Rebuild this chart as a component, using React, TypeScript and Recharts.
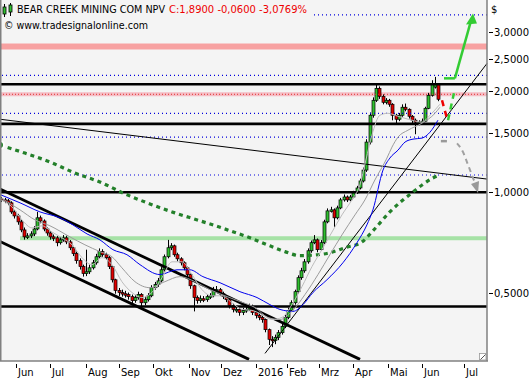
import React from "react";
import {
  ComposedChart,
  Bar,
  Line,
  Scatter,
  XAxis,
  YAxis,
  ReferenceLine,
  ReferenceArea,
} from "recharts";

const FONT = "'DejaVu Sans', Verdana, sans-serif";

// ---- axes ----
const monthTicks = [0, 21, 43, 63, 84, 106, 126, 147, 166, 186, 207, 228, 249, 275];
const monthLabels = ["Jun", "Jul", "Aug", "Sep", "Okt", "Nov", "Dez", "2016", "Feb", "Mrz", "Apr", "Mai", "Jun", "Jul"];
const xDomain: [number, number] = [-9.8, 289];
const priceTicks = [0.5, 1, 1.5, 2, 2.5, 3];
const priceLabels = ["0,5000", "1,0000", "1,5000", "2,0000", "2,5000", "3,0000"];
const yDomain: [number, number] = [0.3136, 3.749];

// ---- candles (2 trading days each) ----
const candleStartDay = -9;
const candleStepDays = 2;
const opens = [
  0.955, 0.949, 0.943, 0.930, 0.874, 0.850, 0.816, 0.772, 0.736, 0.741,
  0.751, 0.777, 0.839, 0.821, 0.777, 0.756, 0.736, 0.731, 0.707, 0.721,
  0.731, 0.711, 0.683, 0.656, 0.625, 0.600, 0.572, 0.579, 0.595, 0.616,
  0.642, 0.665, 0.651, 0.638, 0.600, 0.548, 0.509, 0.502, 0.498, 0.495,
  0.488, 0.475, 0.485, 0.495, 0.468, 0.478, 0.491, 0.519, 0.530, 0.544,
  0.587, 0.642, 0.683, 0.692, 0.651, 0.633, 0.616, 0.595, 0.568, 0.526,
  0.485, 0.475, 0.481, 0.478, 0.488, 0.491, 0.510, 0.512, 0.498, 0.488,
  0.478, 0.459, 0.444, 0.447, 0.438, 0.444, 0.447, 0.456, 0.438, 0.429,
  0.423, 0.417, 0.389, 0.364, 0.361, 0.369, 0.381, 0.398, 0.423, 0.444,
  0.468, 0.505, 0.556, 0.583, 0.620, 0.669, 0.707, 0.721, 0.674, 0.707,
  0.816, 0.880, 0.886, 0.839, 0.898, 0.949, 0.968, 0.949, 0.968, 0.996,
  1.030, 1.081, 1.165, 1.412, 1.698, 1.882, 2.043, 1.934, 1.856, 1.882,
  1.831, 1.698, 1.652, 1.698, 1.794, 1.769, 1.686, 1.641, 1.612, 1.619,
  1.630, 1.781, 1.947, 2.060, 2.099,
];
const highs = [
  0.968, 0.962, 0.955, 0.940, 0.885, 0.862, 0.828, 0.785, 0.755, 0.765,
  0.792, 0.874, 0.852, 0.830, 0.785, 0.765, 0.748, 0.740, 0.735, 0.745,
  0.742, 0.720, 0.692, 0.665, 0.635, 0.608, 0.674, 0.608, 0.628, 0.655,
  0.680, 0.676, 0.660, 0.645, 0.606, 0.552, 0.518, 0.512, 0.508, 0.502,
  0.495, 0.494, 0.505, 0.500, 0.488, 0.500, 0.528, 0.540, 0.555, 0.598,
  0.652, 0.721, 0.705, 0.698, 0.660, 0.640, 0.622, 0.600, 0.572, 0.530,
  0.492, 0.492, 0.490, 0.496, 0.500, 0.522, 0.525, 0.518, 0.505, 0.494,
  0.482, 0.465, 0.455, 0.452, 0.452, 0.456, 0.465, 0.462, 0.442, 0.434,
  0.428, 0.420, 0.392, 0.372, 0.376, 0.388, 0.405, 0.430, 0.452, 0.476,
  0.512, 0.565, 0.595, 0.632, 0.680, 0.718, 0.745, 0.728, 0.720, 0.828,
  0.895, 0.905, 0.895, 0.912, 0.962, 0.985, 0.978, 0.982, 1.010, 1.045,
  1.098, 1.185, 1.440, 1.730, 1.920, 2.114, 2.070, 1.960, 1.910, 1.900,
  1.845, 1.715, 1.725, 1.830, 1.840, 1.780, 1.700, 1.660, 1.640, 1.660,
  1.800, 1.980, 2.160, 2.210, 2.110,
];
const lows = [
  0.935, 0.928, 0.915, 0.862, 0.835, 0.800, 0.760, 0.722, 0.725, 0.730,
  0.740, 0.770, 0.808, 0.765, 0.742, 0.722, 0.715, 0.690, 0.698, 0.712,
  0.700, 0.672, 0.645, 0.612, 0.588, 0.560, 0.562, 0.570, 0.588, 0.608,
  0.635, 0.642, 0.628, 0.590, 0.538, 0.498, 0.490, 0.488, 0.485, 0.478,
  0.466, 0.468, 0.478, 0.447, 0.460, 0.472, 0.486, 0.512, 0.522, 0.538,
  0.580, 0.635, 0.672, 0.642, 0.622, 0.605, 0.585, 0.558, 0.515, 0.441,
  0.465, 0.468, 0.470, 0.471, 0.480, 0.486, 0.502, 0.490, 0.480, 0.470,
  0.450, 0.438, 0.437, 0.428, 0.430, 0.437, 0.442, 0.430, 0.420, 0.415,
  0.408, 0.382, 0.350, 0.345, 0.352, 0.362, 0.376, 0.393, 0.418, 0.440,
  0.462, 0.498, 0.548, 0.575, 0.612, 0.660, 0.700, 0.662, 0.668, 0.700,
  0.808, 0.870, 0.788, 0.830, 0.890, 0.938, 0.935, 0.940, 0.960, 0.988,
  1.020, 1.070, 1.150, 1.390, 1.670, 1.860, 1.900, 1.830, 1.830, 1.800,
  1.640, 1.600, 1.630, 1.680, 1.745, 1.660, 1.610, 1.490, 1.585, 1.590,
  1.620, 1.770, 1.930, 2.040, 1.870,
];
const closes = [
  0.949, 0.943, 0.930, 0.874, 0.850, 0.816, 0.772, 0.736, 0.741, 0.751,
  0.777, 0.839, 0.821, 0.777, 0.756, 0.736, 0.731, 0.707, 0.721, 0.731,
  0.711, 0.683, 0.656, 0.625, 0.600, 0.572, 0.579, 0.595, 0.616, 0.642,
  0.665, 0.651, 0.638, 0.600, 0.548, 0.509, 0.502, 0.498, 0.495, 0.488,
  0.475, 0.485, 0.495, 0.468, 0.478, 0.491, 0.519, 0.530, 0.544, 0.587,
  0.642, 0.683, 0.692, 0.651, 0.633, 0.616, 0.595, 0.568, 0.526, 0.485,
  0.475, 0.481, 0.478, 0.488, 0.491, 0.512, 0.512, 0.498, 0.488, 0.478,
  0.459, 0.447, 0.447, 0.438, 0.444, 0.447, 0.456, 0.438, 0.429, 0.423,
  0.417, 0.389, 0.364, 0.361, 0.369, 0.381, 0.398, 0.423, 0.444, 0.468,
  0.505, 0.556, 0.583, 0.620, 0.669, 0.707, 0.721, 0.674, 0.707, 0.816,
  0.880, 0.886, 0.839, 0.898, 0.949, 0.968, 0.949, 0.968, 0.996, 1.030,
  1.081, 1.165, 1.412, 1.698, 1.882, 2.043, 1.934, 1.856, 1.882, 1.831,
  1.698, 1.652, 1.698, 1.794, 1.769, 1.686, 1.641, 1.619, 1.619, 1.630,
  1.781, 1.947, 2.099, 2.099, 1.895,
];

// ---- moving averages ----
const grayAT = [-9.2, -2.5, 3.7, 9.8, 16, 22.1, 28.2, 34.4, 40.5, 46.6, 52.8, 58.9, 65, 71.2, 77.3, 83.4, 89.6, 95.7, 101.8, 108, 114.1, 120.2, 126.4, 132.5, 138.7, 144.8, 150.9, 157.1, 163.2, 169.3, 175.5, 181.6, 187.7, 193.9, 200, 206.1, 211, 214.7, 218.4, 223.3, 228.2, 234.4, 243, 249.1, 254, 260.1];
const grayAV = [0.949, 0.905, 0.827, 0.783, 0.794, 0.761, 0.731, 0.697, 0.638, 0.608, 0.638, 0.608, 0.541, 0.502, 0.485, 0.502, 0.556, 0.620, 0.620, 0.568, 0.512, 0.491, 0.491, 0.468, 0.447, 0.444, 0.432, 0.417, 0.423, 0.462, 0.523, 0.600, 0.674, 0.761, 0.856, 0.949, 1.051, 1.248, 1.481, 1.698, 1.721, 1.686, 1.641, 1.619, 1.698, 1.831];
const grayBT = [-9.2, 2.5, 11.7, 20.9, 33.1, 42.3, 51.5, 58.9, 65, 73, 82.2, 91.4, 100.6, 109.8, 119, 128.2, 137.4, 146.6, 154.6, 162, 169.3, 177.3, 185.3, 192.6, 200, 208, 214.1, 220.2, 227.6, 230.7, 234.4, 240.5, 249.1, 257.1, 260.1];
const grayBV = [0.962, 0.886, 0.827, 0.794, 0.736, 0.697, 0.665, 0.642, 0.595, 0.541, 0.519, 0.541, 0.560, 0.541, 0.512, 0.491, 0.472, 0.453, 0.423, 0.417, 0.441, 0.495, 0.568, 0.651, 0.746, 0.856, 0.949, 1.088, 1.265, 1.364, 1.461, 1.532, 1.608, 1.721, 1.794];
const blueT = [-9.2, 2.5, 14.7, 27, 35, 43.6, 51.5, 59.5, 68.1, 76.1, 88.3, 98.8, 106.7, 114.7, 125.2, 137.4, 147.9, 155.8, 162, 169.9, 176.1, 182.2, 190.8, 200.6, 209.2, 215.3, 219, 225.2, 229.4, 234.4, 238.7, 243.6, 249.1, 254, 258.9];
const blueV = [0.982, 0.930, 0.874, 0.839, 0.799, 0.751, 0.721, 0.674, 0.651, 0.608, 0.568, 0.587, 0.587, 0.560, 0.537, 0.505, 0.485, 0.462, 0.447, 0.441, 0.462, 0.502, 0.548, 0.616, 0.707, 0.799, 0.886, 1.165, 1.265, 1.336, 1.412, 1.441, 1.451, 1.511, 1.641];
const greenT = [-9.8, 5.5, 20.9, 36.2, 51.5, 66.9, 82.2, 97.5, 112.9, 128.2, 143.6, 155.8, 165, 174.2, 185.3, 192.6, 201.8, 212.3, 219, 229.4, 243.6, 255.8, 260.1];
const greenV = [1.383, 1.309, 1.231, 1.141, 1.073, 0.989, 0.923, 0.868, 0.822, 0.777, 0.731, 0.692, 0.665, 0.647, 0.651, 0.660, 0.683, 0.711, 0.767, 0.874, 1.002, 1.103, 1.126];

// ---- horizontal levels ----
const blueDottedLevels = [3.385, 2.233, 1.721, 1.46, 1.126];
const blackLevels = [2.1, 1.6, 1.0, 0.456];
const pinkZoneTop = [2.668, 2.78];
const pinkZoneMid = [1.934, 1.988];
const redDottedLevel = 1.961;
const greenZone = [0.719, 0.739];
const greenZoneStart = 2.5;

// ---- trend lines [day, price] ----
const channelUpper = [[-9.8, 1.023], [211.1, 0.3171]];
const channelLower = [[-9.8, 0.713], [143, 0.3171]];
const fallingLine = [[-9.8, 1.652], [289, 1.095]];
const risingLine = [[152.8, 0.3304], [289, 2.424]];

// ---- projections ----
const redProjT = [261.4, 264.4];
const redProjV = [1.882, 1.664];
const greenDashT = [265.1, 268.7];
const greenDashV = [1.641, 1.974];
const greenFlatT = [262.6, 269.3];
const greenFlatV = [2.188, 2.188];
const greenArrowT = [269.3, 279.2];
const greenArrowV = [2.188, 3.255];
const greenTipT = [280.4];
const greenTipV = [3.415];
const grayFlatT = [260.7, 264.4];
const grayFlatV = [1.421, 1.421];
const grayCurveT = [270.6, 274.3, 276.7, 278.6, 280.4, 282.2];
const grayCurveV = [1.40, 1.318, 1.231, 1.165, 1.103, 1.059];
const grayTipT = [283.5];
const grayTipV = [0.995];

const toSeries = (ts: number[], vs: number[]) => ts.map((t, i) => ({ t, v: vs[i] }));

const candles = closes.map((c, i) => ({
  t: candleStartDay + i * candleStepDays,
  o: opens[i],
  h: highs[i],
  l: lows[i],
  c,
  range: [lows[i], highs[i]],
}));

function Candle(props: any) {
  const { x, y, width, height, payload } = props;
  if (!payload || !isFinite(y) || !isFinite(height)) return null;
  const lh = Math.log(payload.h);
  const ll = Math.log(payload.l);
  const span = lh - ll || 1e-6;
  const py = (v: number) => y + (height * (lh - Math.log(v))) / span;
  const cx = Math.round(x + width / 2);
  const yo = py(payload.o);
  const yc = py(payload.c);
  const top = Math.min(yo, yc);
  const bh = Math.max(Math.abs(yo - yc), 1.5);
  const up = payload.c >= payload.o;
  return (
    <g>
      <line x1={cx + 0.5} x2={cx + 0.5} y1={y} y2={y + height} stroke="#000" strokeWidth={1} />
      <rect x={cx - 1} y={top} width={3} height={bh} fill={up ? "#2fbf2f" : "#e00000"} stroke="#000" strokeWidth={0.7} />
    </g>
  );
}

function XTick(props: any) {
  const { x, payload } = props;
  const i = monthTicks.indexOf(payload.value);
  const px = Math.round(x) + 0.5;
  return (
    <g>
      <line x1={px} x2={px} y1={364} y2={368} stroke="#000" strokeWidth={1} />
      <text x={px + 1.5} y={375.5} fontSize={10} fontFamily={FONT} fill="#000">
        {monthLabels[i]}
      </text>
    </g>
  );
}

function YTick(props: any) {
  const { y, payload } = props;
  const i = priceTicks.indexOf(payload.value);
  const py = Math.round(y) + 0.5;
  return (
    <g>
      <line x1={489} x2={493} y1={py} y2={py} stroke="#000" strokeWidth={1} />
      <text x={494} y={py + 3.5} fontSize={10} fontFamily={FONT} fill="#000">
        {priceLabels[i]}
      </text>
    </g>
  );
}

const GreenHead = (p: any) => (
  <polygon points={`${p.cx},${p.cy} ${p.cx - 7},${p.cy + 11} ${p.cx + 4},${p.cy + 10}`} fill="#33cc33" />
);
const GrayHead = (p: any) => (
  <polygon points={`${p.cx},${p.cy} ${p.cx - 7},${p.cy - 9} ${p.cx + 1},${p.cy - 12}`} fill="#999999" />
);

export default function App() {
  const segs = [channelUpper, channelLower];
  return (
    <div style={{ position: "absolute", left: 0, top: 0, width: 531, height: 379, background: "#fff", overflow: "hidden" }}>
      <div style={{ position: "absolute", left: 0, top: 0, width: 487, height: 361, background: "#f4f4f4" }} />
      <div style={{ position: "absolute", left: 0, top: 0 }}>
        <ComposedChart width={531} height={379} data={candles} margin={{ top: 0, right: 0, bottom: 0, left: 0 }}>
          <XAxis
            dataKey="t"
            type="number"
            domain={xDomain}
            allowDataOverflow
            ticks={monthTicks}
            interval={0}
            tick={<XTick />}
            tickLine={false}
            axisLine={false}
            height={18}
          />
          <YAxis
            orientation="right"
            type="number"
            scale="log"
            domain={yDomain}
            allowDataOverflow
            ticks={priceTicks}
            interval={0}
            tick={<YTick />}
            tickLine={false}
            axisLine={false}
            width={44}
          />
          <ReferenceArea y1={pinkZoneTop[0]} y2={pinkZoneTop[1]} fill="#f7a1a1" fillOpacity={1} stroke="none" ifOverflow="visible" />
          <ReferenceArea y1={pinkZoneMid[0]} y2={pinkZoneMid[1]} fill="#f5bcc4" fillOpacity={1} stroke="none" ifOverflow="visible" />
          <ReferenceArea x1={greenZoneStart} x2={xDomain[1]} y1={greenZone[0]} y2={greenZone[1]} fill="#a6e2a6" fillOpacity={1} stroke="none" ifOverflow="visible" />
          <ReferenceLine y={redDottedLevel} stroke="#e03030" strokeDasharray="1 2" strokeWidth={1} ifOverflow="visible" />
          {blueDottedLevels.map((v) => (
            <ReferenceLine key={"b" + v} y={v} stroke="#0000dd" strokeDasharray="1 3" strokeWidth={1.2} ifOverflow="visible" />
          ))}
          {blackLevels.map((v) => (
            <ReferenceLine key={"k" + v} y={v} stroke="#000" strokeWidth={2.6} ifOverflow="visible" />
          ))}
          {segs.map((s, i) => (
            <ReferenceLine
              key={"c" + i}
              segment={[{ x: s[0][0], y: s[0][1] }, { x: s[1][0], y: s[1][1] }]}
              stroke="#000"
              strokeWidth={2.8}
              ifOverflow="visible"
            />
          ))}
          <ReferenceLine
            segment={[{ x: fallingLine[0][0], y: fallingLine[0][1] }, { x: fallingLine[1][0], y: fallingLine[1][1] }]}
            stroke="#000"
            strokeWidth={1}
            ifOverflow="visible"
          />
          <ReferenceLine
            segment={[{ x: risingLine[0][0], y: risingLine[0][1] }, { x: risingLine[1][0], y: risingLine[1][1] }]}
            stroke="#000"
            strokeWidth={1}
            ifOverflow="visible"
          />
          <Line data={toSeries(greenT, greenV)} dataKey="v" type="monotone" stroke="#23802a" strokeWidth={3.2} strokeDasharray="4 4" dot={false} isAnimationActive={false} />
          <Line data={toSeries(blueT, blueV)} dataKey="v" type="monotone" stroke="#0000ee" strokeWidth={1} dot={false} isAnimationActive={false} />
          <Line data={toSeries(grayBT, grayBV)} dataKey="v" type="monotone" stroke="#9c9c9c" strokeWidth={1} dot={false} isAnimationActive={false} />
          <Line data={toSeries(grayAT, grayAV)} dataKey="v" type="monotone" stroke="#bdbdbd" strokeWidth={1} dot={false} isAnimationActive={false} />
          <Bar dataKey="range" barSize={3} shape={(p: any) => <Candle {...p} />} isAnimationActive={false} />
          <Line data={toSeries(redProjT, redProjV)} dataKey="v" type="linear" stroke="#ee0000" strokeWidth={2.5} strokeDasharray="6 5" dot={false} isAnimationActive={false} />
          <Line data={toSeries(greenDashT, greenDashV)} dataKey="v" type="linear" stroke="#33cc33" strokeWidth={2.5} strokeDasharray="6 5" dot={false} isAnimationActive={false} />
          <Line data={toSeries(greenFlatT, greenFlatV)} dataKey="v" type="linear" stroke="#33cc33" strokeWidth={2.5} dot={false} isAnimationActive={false} />
          <Line data={toSeries(greenArrowT, greenArrowV)} dataKey="v" type="linear" stroke="#33cc33" strokeWidth={2.5} dot={false} isAnimationActive={false} />
          <Line data={toSeries(grayFlatT, grayFlatV)} dataKey="v" type="linear" stroke="#999999" strokeWidth={2.5} dot={false} isAnimationActive={false} />
          <Line data={toSeries(grayCurveT, grayCurveV)} dataKey="v" type="monotone" stroke="#a0a0a0" strokeWidth={2} strokeDasharray="5 4" dot={false} isAnimationActive={false} />
          <Scatter data={toSeries(greenTipT, greenTipV)} dataKey="v" shape={GreenHead} isAnimationActive={false} />
          <Scatter data={toSeries(grayTipT, grayTipV)} dataKey="v" shape={GrayHead} isAnimationActive={false} />
        </ComposedChart>
      </div>
      <svg width={531} height={379} style={{ position: "absolute", left: 0, top: 0, pointerEvents: "none" }}>
        <rect x={1} y={1} width={310} height={19} fill="#f4f4f4" />
        <line x1={4.5} x2={4.5} y1={4} y2={17} stroke="#000" />
        <rect x={3} y={7} width={3} height={7} fill="#2fbf2f" stroke="#000" strokeWidth={0.8} />
        <line x1={10.5} x2={10.5} y1={3} y2={16} stroke="#000" />
        <rect x={9} y={5} width={3} height={7} fill="#2fbf2f" stroke="#000" strokeWidth={0.8} />
        <text x={17} y={13} fontSize={10} fontFamily={FONT} fill="#000" textLength={148} lengthAdjust="spacingAndGlyphs">
          BEAR CREEK MINING COM NPV
        </text>
        <text x={169} y={13} fontSize={10} fontFamily={FONT} fill="#ee0000" textLength={138} lengthAdjust="spacingAndGlyphs">
          C:1,8900 -0,0600 -3,0769%
        </text>
        <text x={4} y={29} fontSize={10} fontFamily={FONT} fill="#000" textLength={144} lengthAdjust="spacingAndGlyphs">
          © www.tradesignalonline.com
        </text>
        <line x1={0.75} x2={0.75} y1={0} y2={361} stroke="#808080" strokeWidth={1.5} />
        <line x1={0} x2={488} y1={361} y2={361} stroke="#808080" strokeWidth={1.5} />
        <line x1={487} x2={487} y1={0} y2={361} stroke="#808080" strokeWidth={1.5} />
        <rect x={479.5} y={353.5} width={6.5} height={6.5} fill="#fff" stroke="#9a9a9a" strokeWidth={0.8} />
        <line x1={480.5} y1={359.5} x2={485.5} y2={354.5} stroke="#555" strokeWidth={1} />
        <text x={491} y={13} fontSize={10} fontFamily={FONT} fill="#000">$</text>
      </svg>
    </div>
  );
}
